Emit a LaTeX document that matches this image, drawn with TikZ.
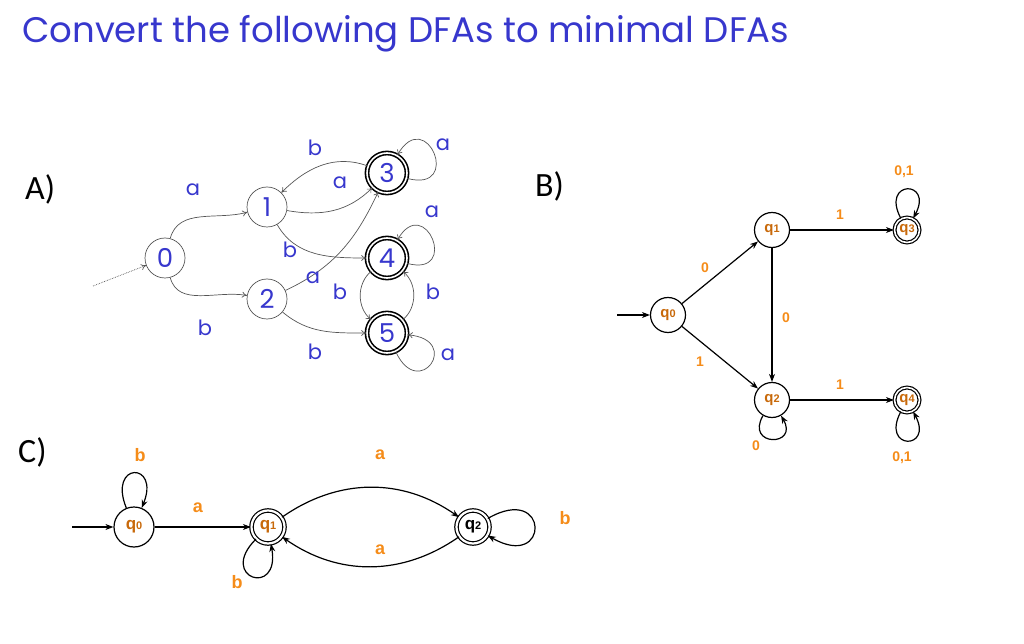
\documentclass[tikz,border=0pt]{standalone}
\usepackage{fontspec}
\usepackage{tikz}
\usetikzlibrary{arrows.meta, positioning}
\newfontfamily\comicfont{Poppins}
\newfontfamily\calfont{Carlito}
\newfontfamily\arialfont{Liberation Sans}
\definecolor{titleblue}{RGB}{55,55,205}
\definecolor{lblorange}{RGB}{245,140,25}
\definecolor{qorange}{RGB}{200,105,10}
\definecolor{edgegray}{RGB}{85,85,85}

\tikzstyle{stateA} = [circle, draw=edgegray, line width=0.7pt,
minimum size=40pt, inner sep=0pt,
text=titleblue, font=\comicfont\fontsize{26}{26}\selectfont]
\tikzstyle{finalA} = [stateA, draw=black, line width=1.6pt,
double=white, double distance=1.6pt, minimum size=40pt]
\tikzstyle{edgeA} = [draw=edgegray, line width=0.7pt, -{To[length=5pt,width=6pt]}]
\tikzstyle{lblA} = [text=titleblue, font=\comicfont\fontsize{21}{21}\selectfont, inner sep=0pt]
\tikzstyle{stateB} = [circle, draw=black, line width=1.2pt,
minimum size=35pt, inner sep=0pt,
text=qorange, font=\arialfont\bfseries\fontsize{15}{15}\selectfont]
\tikzstyle{finalB} = [stateB, double=white, double distance=1.6pt, minimum size=25pt]
\tikzstyle{stateC} = [stateB, minimum size=40pt, font=\arialfont\bfseries\fontsize{17}{17}\selectfont]
\tikzstyle{finalC} = [stateC, double=white, double distance=2.2pt, minimum size=33pt]
\tikzstyle{edgeB} = [draw=black, line width=1.2pt, -{Stealth[length=8pt,width=6pt]}]
\tikzstyle{lblB} = [text=lblorange, font=\arialfont\bfseries\fontsize{14}{14}\selectfont, inner sep=0pt]
\tikzstyle{lblC} = [lblB, font=\arialfont\bfseries\fontsize{18}{18}\selectfont]
\tikzstyle{part} = [anchor=base west, inner sep=0pt, font=\calfont\fontsize{34}{34}\selectfont]

\newcommand{\qname}[1]{q{\fontsize{11}{11}\selectfont #1}}

\begin{document}
\begin{tikzpicture}[x=1pt, y=1pt]
        \useasboundingbox (0,0) rectangle (1024,643);

        \node (title) [anchor=base west, inner sep=0pt, text=titleblue,
            font=\comicfont\fontsize{35.5}{35.5}\selectfont] at (22,600)
            {Convert the following DFAs to minimal DFAs};

        \node (partA) [part] at (25,443) {A)};
        \node (partB) [part] at (535,446) {B)};
        \node (partC) [part] at (18,181) {C)};

        % A)
        \node (a0) [stateA] at (165,385) {0};
        \node (a1) [stateA] at (267,436) {1};
        \node (a2) [stateA] at (267,344) {2};
        \node (a3) [finalA] at (387,470) {3};
        \node (a4) [finalA] at (387,385) {4};
        \node (a5) [finalA] at (387,310) {5};
        \coordinate (startA) at (93,357);

        \draw [edgeA, densely dotted] (startA) -- (a0);
        \draw [edgeA] (a0) to[out=75, in=195] (a1);
        \draw [edgeA] (a0) to[out=-75, in=170] (a2);
        \draw [edgeA] (a1) to[out=-10, in=225] (a3);
        \draw [edgeA] (a3) to[out=160, in=45] (a1);
        \draw [edgeA] (a1) to[out=-60, in=180] (a4);
        \draw [edgeA] (a2) to[out=25, in=-115] (a3);
        \draw [edgeA] (a2) to[out=-40, in=180] (a5);
        \draw [edgeA] (a4) to[out=220, in=140] (a5);
        \draw [edgeA] (a5) to[out=40, in=-40] (a4);
        \draw [edgeA] (a3) to[out=-15, in=60, min distance=58pt] (a3);
        \draw [edgeA] (a4) to[out=-15, in=60, min distance=55pt] (a4);
        \draw [edgeA] (a5) to[out=-65, in=-5, min distance=55pt] (a5);

        \node (la01) [lblA] at (193,453) {a};
        \node (la02) [lblA] at (205,315) {b};
        \node (la13) [lblA] at (340,460) {a};
        \node (la31) [lblA] at (315,495) {b};
        \node (la14) [lblA] at (290,393) {b};
        \node (la23) [lblA] at (313,365) {a};
        \node (la25) [lblA] at (315,291) {b};
        \node (la45) [lblA] at (340,351) {b};
        \node (la54) [lblA] at (433,351) {b};
        \node (la33) [lblA] at (443,498) {a};
        \node (la44) [lblA] at (432,431) {a};
        \node (la55) [lblA] at (448,288) {a};

        % B)
        \node (b0) [stateB] at (668,328) {\qname{0}};
        \node (b1) [stateB] at (772,413) {\qname{1}};
        \node (b2) [stateB] at (772,243) {\qname{2}};
        \node (b3) [finalB] at (907,413) {\qname{3}};
        \node (b4) [finalB] at (907,243) {\qname{4}};
        \coordinate (startB) at (617,328);

        \draw [edgeB] (startB) -- (b0);
        \draw [edgeB] (b0) -- (b1);
        \draw [edgeB] (b0) -- (b2);
        \draw [edgeB] (b1) -- (b2);
        \draw [edgeB] (b1) -- (b3);
        \draw [edgeB] (b2) -- (b4);
        \draw [edgeB] (b3) to[out=118, in=62, min distance=44pt] (b3);
        \draw [edgeB] (b4) to[out=-118, in=-62, min distance=44pt] (b4);
        \draw [edgeB] (b2) to[out=-120, in=-60, min distance=36pt] (b2);

        \node (lb01) [lblB] at (705,375) {0};
        \node (lb02) [lblB] at (700,281) {1};
        \node (lb12) [lblB] at (786,325) {0};
        \node (lb13) [lblB] at (840,428) {1};
        \node (lb24) [lblB] at (840,258) {1};
        \node (lb33) [lblB] at (904,471) {0,1};
        \node (lb44) [lblB] at (902,185) {0,1};
        \node (lb22) [lblB] at (756,197) {0};

        % C)
        \node (c0) [stateC] at (134,116) {\qname{0}};
        \node (c1) [finalC] at (268,116) {\qname{1}};
        \node (c2) [finalC, text=black] at (473,116) {\qname{2}};
        \coordinate (startC) at (72,116);

        \draw [edgeB] (startC) -- (c0);
        \draw [edgeB] (c0) -- (c1);
        \draw [edgeB] (c1) to[out=35, in=145] (c2);
        \draw [edgeB] (c2) to[out=-145, in=-35] (c1);
        \draw [edgeB] (c0) to[out=112, in=68, min distance=50pt] (c0);
        \draw [edgeB] (c1) to[out=-135, in=-80, min distance=55pt] (c1);
        \draw [edgeB] (c2) to[out=30, in=-30, min distance=72pt] (c2);

        \node (lc01) [lblC] at (198,135) {a};
        \node (lc12) [lblC] at (380,188) {a};
        \node (lc21) [lblC] at (380,93) {a};
        \node (lc00) [lblC] at (140,188) {b};
        \node (lc11) [lblC] at (237,61) {b};
        \node (lc22) [lblC] at (565,125) {b};

    \end{tikzpicture}
\end{document}
